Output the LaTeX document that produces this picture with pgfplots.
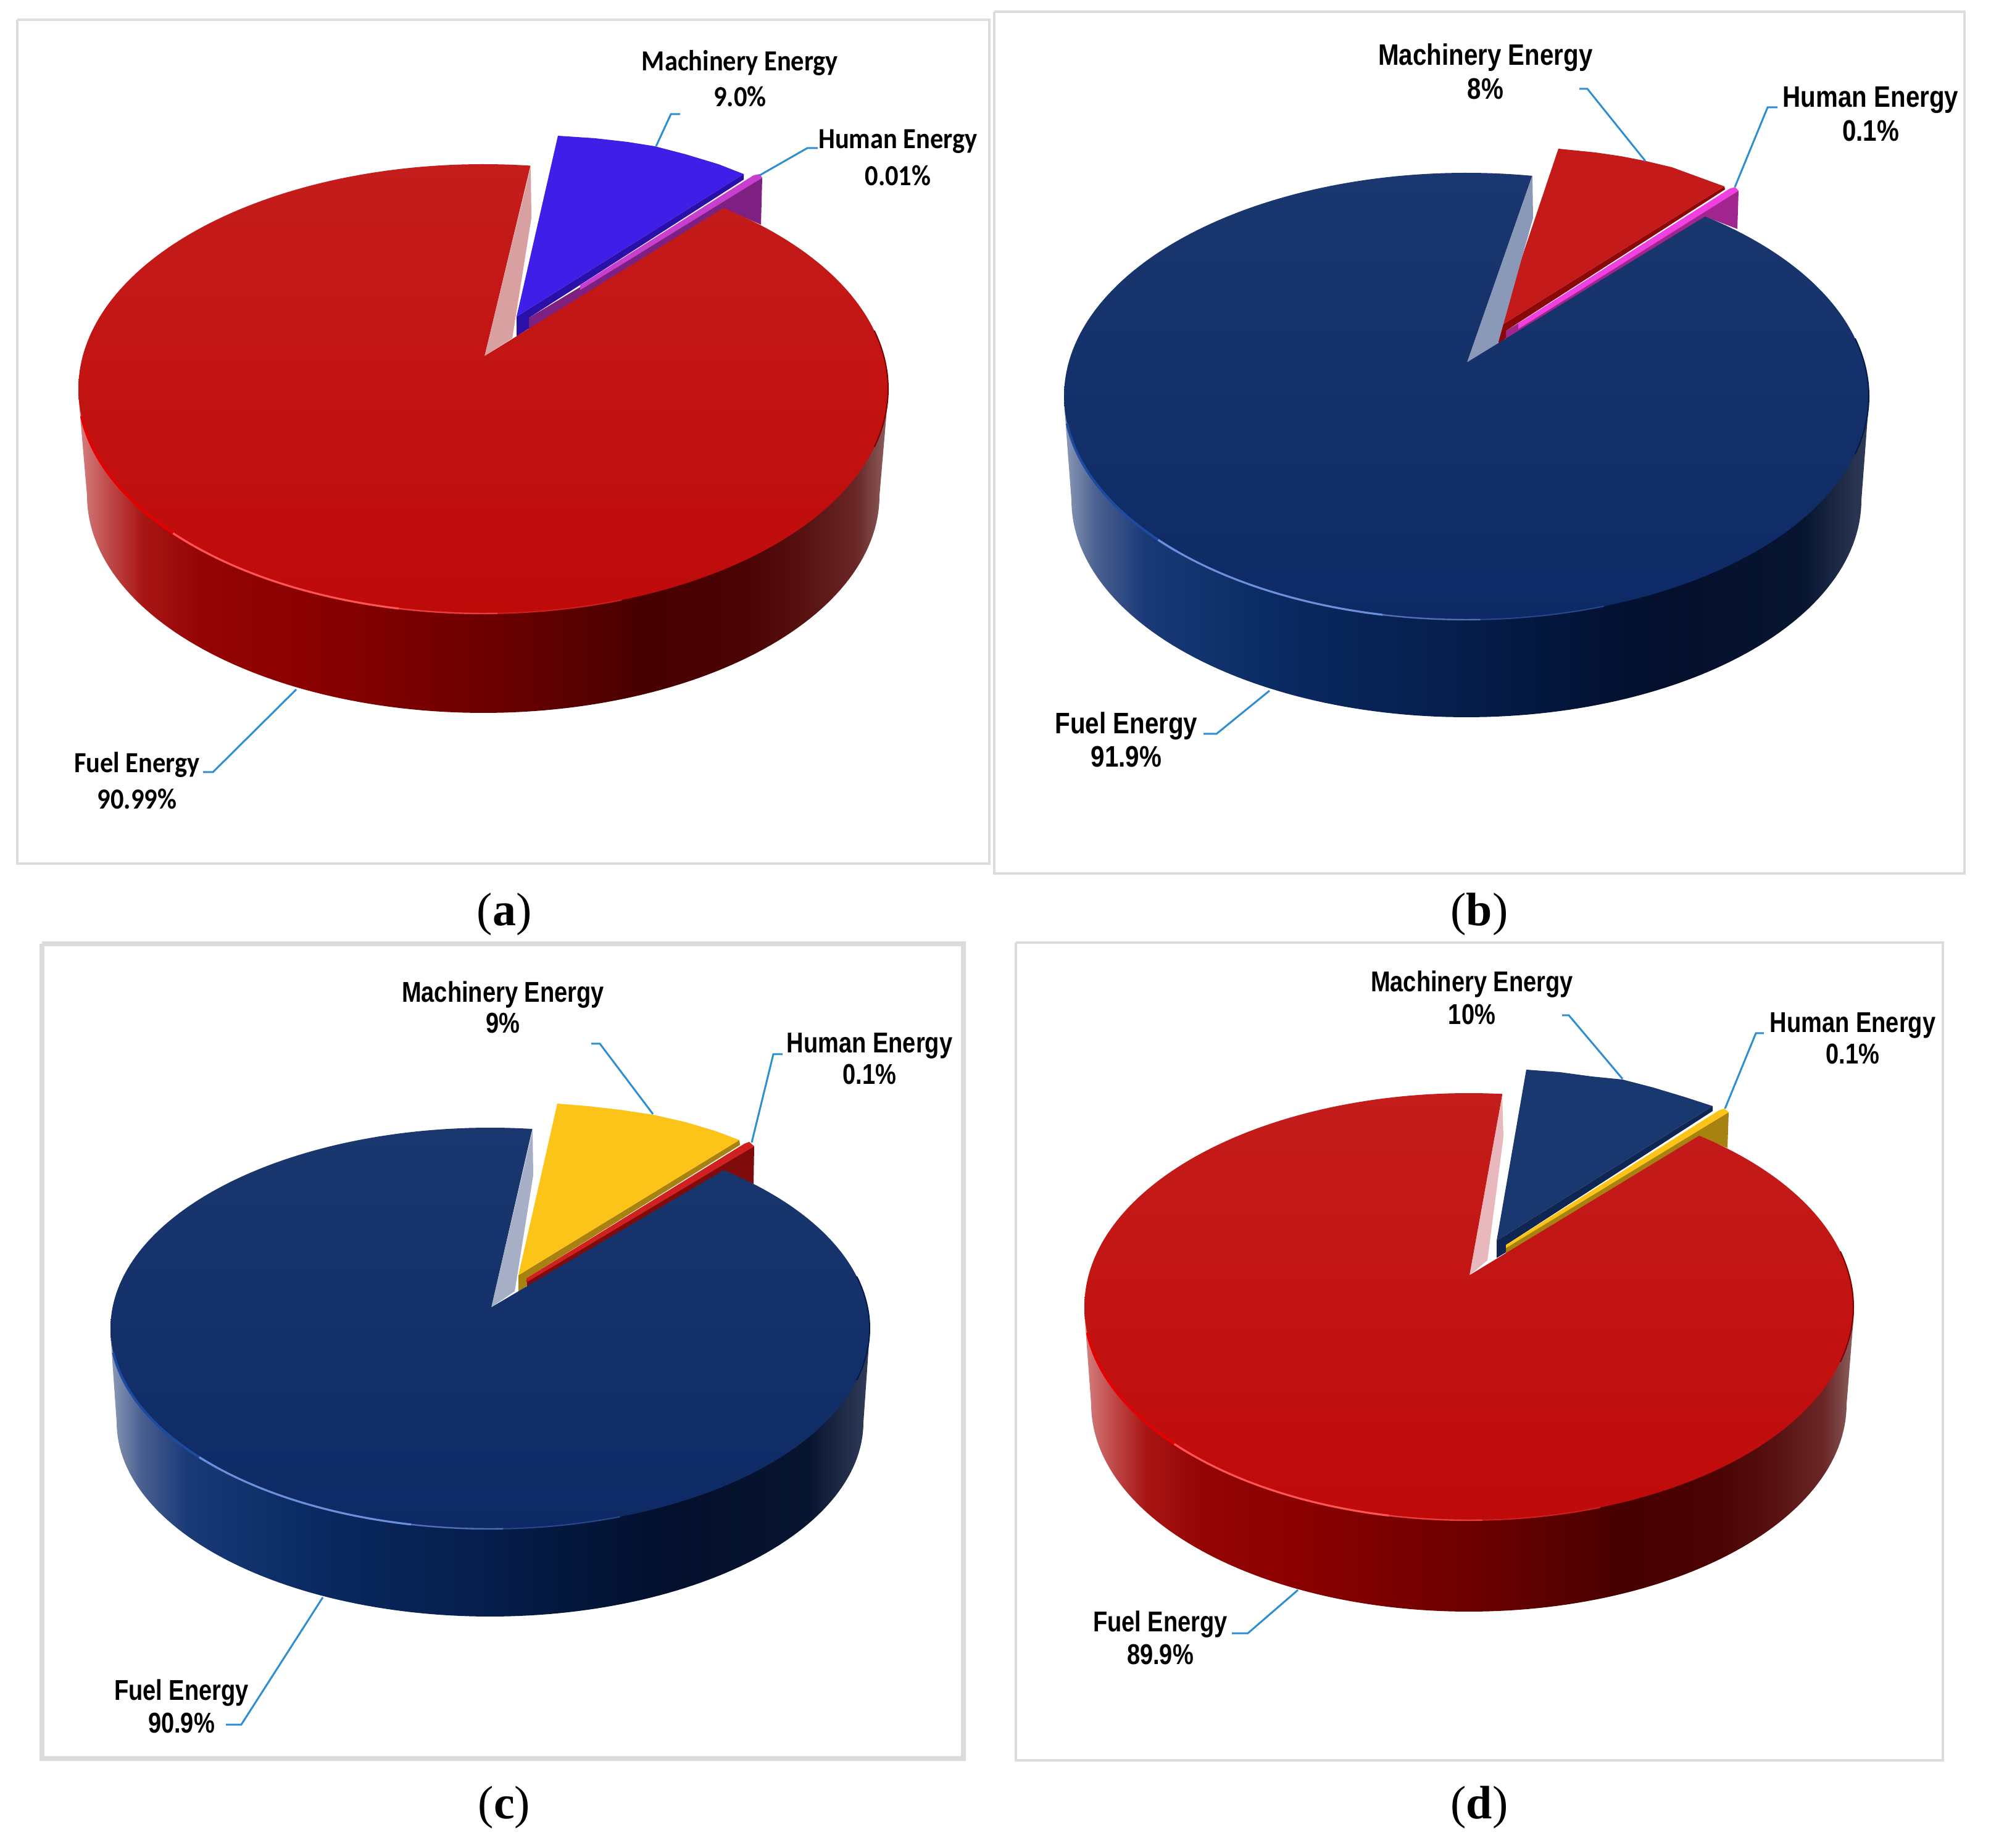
\documentclass[border=0pt]{standalone}
\usepackage{pgfplots}
\pgfplotsset{compat=1.18}
\usepackage{fontspec}
\setmainfont{Liberation Serif}
\newfontfamily\calf{Carlito}
\newfontfamily\ari{Liberation Sans}
% colours
\definecolor{leaderc}{HTML}{2E8FD0}
\definecolor{framec}{HTML}{DCDCDC}
\definecolor{redT}{HTML}{C41D1B}\definecolor{redB}{HTML}{BF0A0A}
\definecolor{navyT}{HTML}{1A376F}\definecolor{navyB}{HTML}{0D2A66}
\definecolor{HTMLa}{HTML}{7E2082}\definecolor{HTMLb}{HTML}{2A0FA8}\definecolor{HTMLc}{HTML}{3F1FE8}\definecolor{HTMLd}{HTML}{C83FD0}\definecolor{HTMLe}{HTML}{D8A0A0}
\definecolor{HTMLf}{HTML}{A0258F}\definecolor{HTMLg}{HTML}{8B0808}\definecolor{HTMLh}{HTML}{C41A1A}\definecolor{HTMLi}{HTML}{F040E0}\definecolor{HTMLj}{HTML}{8A99B8}
\definecolor{HTMLk}{HTML}{7E0C0C}\definecolor{HTMLl}{HTML}{A88210}\definecolor{HTMLm}{HTML}{FCC318}\definecolor{HTMLn}{HTML}{D02020}\definecolor{HTMLo}{HTML}{A6AFC6}
\definecolor{HTMLp}{HTML}{A88210}\definecolor{HTMLq}{HTML}{0F2552}\definecolor{HTMLr}{HTML}{1A3870}\definecolor{HTMLs}{HTML}{FCC318}\definecolor{HTMLt}{HTML}{E8B8BC}
\definecolor{rA}{HTML}{E60000}\definecolor{rB}{HTML}{FF5555}\definecolor{rC}{HTML}{E84040}\definecolor{rD}{HTML}{D02020}\definecolor{rE}{HTML}{800000}
\definecolor{nA}{HTML}{1E4AA0}\definecolor{nB}{HTML}{6E8FDC}\definecolor{nC}{HTML}{5070B8}\definecolor{nD}{HTML}{2A4890}\definecolor{nE}{HTML}{061A48}
% walls: the bounding box of the path takes the 25bp..75bp part
\pgfdeclarehorizontalshading{redwall}{100bp}{
 color(0bp)=(rgb,255:red,214;green,128;blue,128);
 color(25bp)=(rgb,255:red,214;green,128;blue,128);
 color(27bp)=(rgb,255:red,190;green,70;blue,70);
 color(29bp)=(rgb,255:red,168;green,21;blue,21);
 color(32.5bp)=(rgb,255:red,149;green,5;blue,5);
 color(39bp)=(rgb,255:red,138;green,0;blue,0);
 color(50bp)=(rgb,255:red,110;green,0;blue,0);
 color(60bp)=(rgb,255:red,72;green,0;blue,0);
 color(66bp)=(rgb,255:red,74;green,2;blue,2);
 color(70bp)=(rgb,255:red,88;green,18;blue,18);
 color(73bp)=(rgb,255:red,106;green,38;blue,38);
 color(75bp)=(rgb,255:red,140;green,96;blue,96);
 color(100bp)=(rgb,255:red,140;green,96;blue,96)}
\pgfdeclarehorizontalshading{navywall}{100bp}{
 color(0bp)=(rgb,255:red,141;green,155;blue,184);
 color(25bp)=(rgb,255:red,141;green,155;blue,184);
 color(27bp)=(rgb,255:red,74;green,96;blue,144);
 color(30bp)=(rgb,255:red,26;green,58;blue,120);
 color(38bp)=(rgb,255:red,10;green,42;blue,98);
 color(50bp)=(rgb,255:red,5;green,29;blue,74);
 color(62bp)=(rgb,255:red,3;green,15;blue,44);
 color(71bp)=(rgb,255:red,8;green,21;blue,48);
 color(75bp)=(rgb,255:red,48;green,60;blue,88);
 color(100bp)=(rgb,255:red,48;green,60;blue,88)}
% #1 shading, #2 cx, #3 cy, #4 rx, #5 ry of the lower rim, #6 right top, #7 left top
\newcommand{\wall}[7]{\addplot[draw=none,shade,shading=#1,domain=180:360,samples=121]
  ({#2+#4*cos(x)},{#3-#5*sin(x)}) -- (axis cs:#6) -- (axis cs:#7) -- cycle;}
% #1 top, #2 bottom colour, #3-#6 ellipse, #7 #8 angles, #9 apex
\newcommand{\topface}[9]{\addplot[draw=none,top color=#1,bottom color=#2,domain=#7:#8,samples=241]
  ({#3+#5*cos(x)},{#4-#6*sin(x)}) -- (axis cs:#9) -- cycle;}
% #1 colour, #2 width, #3-#6 ellipse, #7 #8 angles
\newcommand{\rim}[8]{\addplot[draw=#1,line width=#2,domain=#7:#8,samples=61]
  ({#3+#5*cos(x)},{#4-#6*sin(x)});}
% #1 colour prefix, #2-#5 ellipse
\newcommand{\rims}[5]{%
  \rim{#1D}{0.5pt}{#2}{#3}{#4}{#5}{272}{290}
  \rim{#1C}{0.6pt}{#2}{#3}{#4}{#5}{258}{272}
  \rim{#1A}{1.0pt}{#2}{#3}{#4}{#5}{187}{224}
  \rim{#1B}{0.8pt}{#2}{#3}{#4}{#5}{220}{258}
  \rim{#1E}{0.5pt}{#2}{#3}{#4}{#5}{345}{375}}
\newcommand{\poly}[2]{\addplot[draw=none,fill=#1] coordinates {#2} -- cycle;}
\newcommand{\leader}[1]{\addplot[draw=leaderc,line width=0.75pt] coordinates {#1};}
\newcommand{\frm}[2]{\addplot[draw=framec,line width=#1] coordinates {#2};}
\newcommand{\labA}[3]{\node[inner sep=0pt,font=\fontsize{11.8}{13}\selectfont\calf\bfseries] at (axis cs:#1,#2) {\scalebox{0.9}[1]{#3}};}
\newcommand{\labB}[3]{\node[inner sep=0pt,font=\fontsize{12}{13}\selectfont\ari\bfseries] at (axis cs:#1,#2) {\scalebox{0.84}[1]{#3}};}
\newcommand{\labC}[3]{\node[inner sep=0pt,font=\fontsize{11.6}{13}\selectfont\ari\bfseries] at (axis cs:#1,#2) {\scalebox{0.82}[1]{#3}};}
\newcommand{\capt}[3]{\node[inner sep=0pt,font=\fontsize{19}{22}\selectfont] at (axis cs:#1,#2) {(\textbf{#3})};}
\begin{document}
\begin{tikzpicture}
\path[use as bounding box] (0,0) rectangle (806.5pt,748.5pt);
\begin{axis}[at={(0,0)},anchor=south west,scale only axis,width=806.5pt,height=748.5pt,
  xmin=0,xmax=3226,ymin=0,ymax=2994,y dir=reverse,hide axis,clip=false]

% ---------- (a) Fuel 90.99, Machinery 9.0, Human 0.01
\frm{1pt}{(28,32)(1603,32)(1603,1399)(28,1399)(28,32)}
\wall{redwall}{783}{803}{642}{352}{1439,640}{127,640}
\poly{HTMLa}{(857,515)(1235,288)(1233,364)(1174,338)(856,548)}
\poly{HTMLb}{(1205,282)(1205,291)(857,515)(857,532)(837,545)(837,513)}
\poly{HTMLc}{(904,220)(964,224)(1017,230)(1061,237)(1111,250)(1164,266)(1205,282)(837,513)}
\poly{HTMLd}{(940,462)(1221,284)(1231,282)(1235,288)(940,470)}
\poly{HTMLe}{(785,577)(860,270)(861,353)(830,548)}
\topface{redT}{redB}{783}{630}{656}{364}{83.3}{413.6}{785,577}
\rims{r}{783}{630}{656}{364}
\leader{(1102,185)(1087,185)(1063,237)}
\leader{(1325,240)(1308,240)(1231,284)}
\leader{(329,1251)(345,1251)(480,1117)}
\labA{1199}{102}{Machinery Energy}
\labA{1199}{156}{9.0\%}
\labA{1455}{229}{Human Energy}
\labA{1455}{284}{0.01\%}
\labA{222}{1239}{Fuel Energy}
\labA{222}{1294}{90.99\%}
\capt{817}{1481}{a}

% ---------- (b) Fuel 91.9, Machinery 8, Human 0.1
\frm{1pt}{(1611,19)(3183,19)(3183,1415)(1611,1415)(1611,19)}
\wall{navywall}{2376}{810}{640}{352}{3028,652}{1724,652}
\poly{HTMLf}{(2440,536)(2817,309)(2815,371)(2763,351)(2440,560)}
\poly{HTMLg}{(2794,302)(2795,307)(2440,536)(2440,548)(2428,557)(2428,530)}
\poly{HTMLh}{(2525,241)(2585,247)(2626,253)(2667,261)(2709,271)(2750,286)(2794,302)(2428,530)}
\poly{HTMLi}{(2460,524)(2802,306)(2811,303)(2817,309)(2460,533)}
\poly{HTMLj}{(2377,587)(2483,284)(2484,353)(2427,557)}
\topface{navyT}{navyB}{2376}{642}{652}{362}{80.6}{413.6}{2377,587}
\rims{n}{2376}{642}{652}{362}
\leader{(2559,144)(2572,144)(2666,261)}
\leader{(2880,174)(2864,174)(2811,303)}
\leader{(1950,1189)(1971,1189)(2057,1119)}
\labB{2407}{93}{Machinery Energy}
\labB{2407}{144}{8\%}
\labB{3031}{162}{Human Energy}
\labB{3031}{212}{0.1\%}
\labB{1825}{1176}{Fuel Energy}
\labB{1825}{1226}{91.9\%}
\capt{2397}{1481}{b}

% ---------- (c) Fuel 90.9, Machinery 9, Human 0.1
\frm{2pt}{(68,1529)(1561,1529)(1561,2849)(68,2849)(68,1529)}
\wall{navywall}{794}{2304}{605}{315}{1409,2162}{179,2162}
\poly{HTMLk}{(853,2071)(1222,1857)(1221,1918)(1173,1898)(854,2095)}
\poly{HTMLl}{(1198,1847)(1199,1855)(853,2071)(853,2084)(840,2094)(840,2066)}
\poly{HTMLm}{(903,1788)(952,1792)(1005,1798)(1058,1806)(1111,1818)(1158,1832)(1198,1847)(840,2066)}
\poly{HTMLn}{(853,2071)(1206,1853)(1214,1850)(1222,1857)(854,2077)}
\poly{HTMLo}{(796,2118)(863,1831)(864,1904)(834,2092)}
\topface{navyT}{navyB}{794}{2152}{615}{325}{83.6}{412}{796,2118}
\rims{n}{794}{2152}{615}{325}
\leader{(958,1691)(972,1691)(1058,1805)}
\leader{(1268,1708)(1253,1708)(1218,1851)}
\leader{(366,2794)(391,2794)(523,2588)}
\labC{815}{1612}{Machinery Energy}
\labC{815}{1658}{9\%}
\labC{1409}{1694}{Human Energy}
\labC{1409}{1741}{0.1\%}
\labC{294}{2743}{Fuel Energy}
\labC{294}{2792}{90.9\%}
\capt{817}{2928}{c}

% ---------- (d) Fuel 89.9, Machinery 10, Human 0.1
\frm{1pt}{(1646,1527)(3148,1527)(3148,2852)(1646,2852)(1646,1527)}
\wall{redwall}{2380}{2275}{612}{336}{3004,2127}{1757,2127}
\poly{HTMLp}{(2440,2017)(2801,1802)(2799,1860)(2753,1841)(2440,2040)}
\poly{HTMLq}{(2775,1792)(2775,1800)(2440,2017)(2440,2029)(2425,2038)(2425,2010)}
\poly{HTMLr}{(2473,1733)(2527,1737)(2579,1744)(2629,1749)(2679,1762)(2732,1778)(2775,1792)(2425,2010)}
\poly{HTMLs}{(2440,2017)(2785,1799)(2794,1796)(2801,1802)(2440,2022)}
\poly{HTMLt}{(2381,2066)(2434,1775)(2436,1842)(2410,2042)}
\topface{redT}{redB}{2380}{2117}{623}{346}{85}{413.2}{2381,2066}
\rims{r}{2380}{2117}{623}{346}
\leader{(2531,1645)(2542,1645)(2629,1748)}
\leader{(2858,1674)(2845,1674)(2795,1796)}
\leader{(1996,2646)(2022,2646)(2103,2576)}
\labC{2385}{1595}{Machinery Energy}
\labC{2385}{1644}{10\%}
\labC{3002}{1661}{Human Energy}
\labC{3002}{1708}{0.1\%}
\labC{1880}{2632}{Fuel Energy}
\labC{1880}{2681}{89.9\%}
\capt{2397}{2928}{d}
\end{axis}
\end{tikzpicture}
\end{document}
